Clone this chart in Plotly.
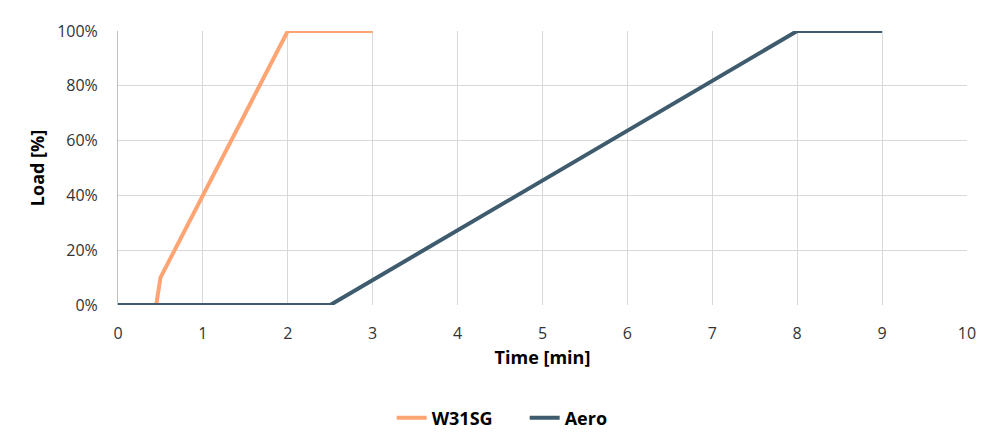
import plotly.graph_objs as go

w31sg_time = [0, 0.45, 0.5, 2, 3]
w31sg_load = [0, 0, 10, 100, 100]
aero_time = [0, 2.5, 8, 9]
aero_load = [0, 0, 100, 100]

orange = '#FFA574'
slate = '#3F5B6E'

traces = [
    go.Scatter(x=w31sg_time, y=w31sg_load, mode='lines', name='<b>W31SG</b>',
               line=dict(color=orange, width=4)),
    go.Scatter(x=aero_time, y=aero_load, mode='lines', name='<b>Aero</b>',
               line=dict(color=slate, width=4)),
]

# page body adds 8px, so margins are shifted by that
layout = go.Layout(
    width=1000, height=448,
    paper_bgcolor='white', plot_bgcolor='white',
    font=dict(family='Open Sans', size=16, color='#222222'),
    margin=dict(l=110, r=41, t=18, b=151),
    xaxis=dict(range=[0, 10], dtick=1, showgrid=True, gridcolor='#D9D9D9', gridwidth=1,
               zeroline=False, showline=False, ticks='outside', ticklen=14,
               tickcolor='rgba(0,0,0,0)',
               title=dict(text='<b>Time [min]</b>', font=dict(size=18, color='#000000'), standoff=8),
               tickfont=dict(size=16, color='#333333')),
    yaxis=dict(range=[0, 100], dtick=20, ticksuffix='%', showgrid=True, gridcolor='#D9D9D9',
               zeroline=False, showline=True, linecolor='#BFBFBF', linewidth=1,
               ticks='outside', ticklen=16, tickcolor='rgba(0,0,0,0)',
               title=dict(text='<b>Load [%]</b>', font=dict(size=18, color='#000000'), standoff=7),
               tickfont=dict(size=16, color='#333333')),
    legend=dict(orientation='h', x=0.479, xanchor='center', y=-0.345, yanchor='top',
                font=dict(size=18, color='#000000'), itemwidth=30,
                entrywidth=88, entrywidthmode='pixels'),
    showlegend=True,
)

fig = go.Figure(data=traces, layout=layout)
fig.write_html('out.html')
